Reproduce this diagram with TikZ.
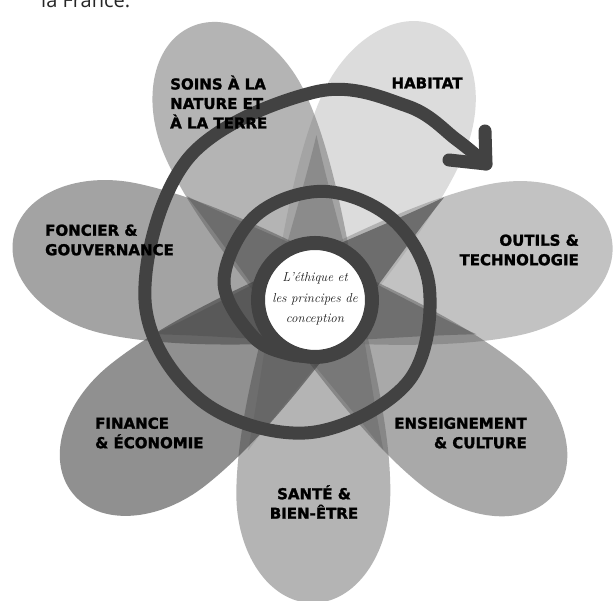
\documentclass[tikz,border=0pt]{standalone}
\usepackage{fontspec}
\newfontfamily\labelfont{DejaVu Sans}[BoldFeatures={FakeBold=1.6}]
\newfontfamily\topfont{Open Sans}
\definecolor{pSoins}{HTML}{777777}
\definecolor{pHabitat}{HTML}{C0C0C0}
\definecolor{pOutils}{HTML}{909090}
\definecolor{pEnseign}{HTML}{636363}
\definecolor{pSante}{HTML}{777777}
\definecolor{pFinance}{HTML}{353535}
\definecolor{pFoncier}{HTML}{585858}
\definecolor{ringgray}{HTML}{424242}
\newcommand\flowerpetal[3]{%
  \fill[#1, fill opacity=0.55, shift={(315,301)}, rotate=#2]
    (-165,0) .. controls (-60,24) and (90,77) .. ({#3-110},77)
    .. controls ({#3-49},77) and (#3,43) .. (#3,0)
    .. controls (#3,-43) and ({#3-49},-77) .. ({#3-110},-77)
    .. controls (90,-77) and (-60,-24) .. cycle;}
\begin{document}
\begin{tikzpicture}[x=1pt,y=1pt,
  ring/.style={draw=ringgray, line width=13, line cap=round, line join=round},
  lbl/.style={font=\labelfont\bfseries\fontsize{15}{19.5}\selectfont, text=black, inner sep=0}]
\fill[white] (0,0) rectangle (614,601);
\useasboundingbox (0,0) rectangle (614,601);
\flowerpetal{pHabitat}{66}{300}
\flowerpetal{pOutils}{12}{303}
\flowerpetal{pSoins}{114.5}{300}
\flowerpetal{pSante}{-90.5}{303}
\flowerpetal{pEnseign}{-39}{308}
\flowerpetal{pFoncier}{168}{308}
\flowerpetal{pFinance}{218.5}{310}
% spiral
\coordinate (tip) at (486,437);
\coordinate (barbA) at (485,470);
\coordinate (barbB) at (449,441);
\draw[ring] plot[smooth, tension=0.6] coordinates {(324.9,244.9) (289.6,246.6) (252.6,265) (224.0,320.3) (255.9,385.4) (324.5,409.6) (394.2,380.2) (429.6,311.0) (407.1,218.0) (308.0,168.2) (200.3,201.3) (145,301) (187.9,442.2) (315,509) (407,495) (457,461) (486,437)};
\draw[ring] (barbA) -- (tip) -- (barbB);
% core
\node[circle, fill=white, draw=ringgray, line width=14, minimum size=114, inner sep=0] (core) at (315,301) {};
\node[font=\itshape\fontsize{13}{20.5}\selectfont, text=black!90, align=center, inner sep=0] (coretext) at (315,302) {L'éthique et\\les principes de\\conception};
% labels
\node[lbl, anchor=west, align=left] (soins) at (170,499) {SOINS À LA\\NATURE ET\\À LA TERRE};
\node[lbl] (habitat) at (427,518) {HABITAT};
\node[lbl, anchor=east, align=right] (outils) at (579,351) {OUTILS \&\\TECHNOLOGIE};
\node[lbl, anchor=west, align=left] (foncier) at (45,361) {FONCIER \&\\GOUVERNANCE};
\node[lbl, anchor=west, align=left] (finance) at (95,168) {FINANCE\\\& ÉCONOMIE};
\node[lbl, anchor=east, align=right] (enseign) at (527,168) {ENSEIGNEMENT\\\& CULTURE};
\node[lbl, align=center] (sante) at (314,99) {SANTÉ \&\\BIEN-ÊTRE};
\node[anchor=base west, font=\topfont\fontsize{20}{24}\selectfont, text=black!85, inner sep=0] (france) at (41,593) {la France.};
\end{tikzpicture}
\end{document}
